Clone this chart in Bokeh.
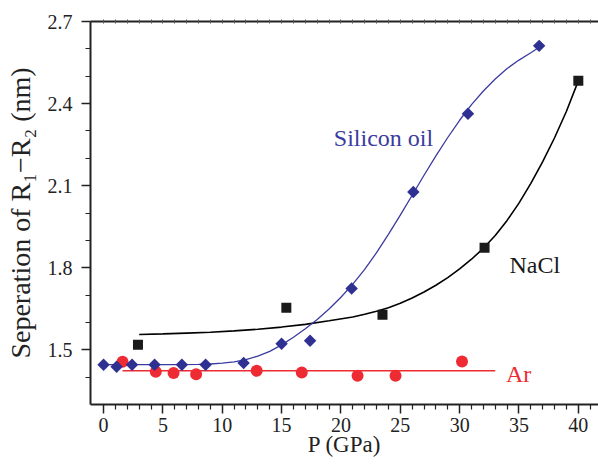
import math
from bokeh.plotting import figure
from bokeh.models import Range1d, FixedTicker, LinearAxis, Label
from bokeh.embed import file_html
from bokeh.resources import INLINE

# ---- data ----
# Silicon oil (blue diamonds)
si_p = [0.0, 1.1, 2.4, 4.3, 6.6, 8.6, 11.8, 15.0, 17.4, 20.9, 26.1, 30.7, 36.7]
si_y = [1.445, 1.438, 1.445, 1.445, 1.445, 1.445, 1.452, 1.522, 1.533, 1.724, 2.077, 2.363, 2.611]
# Silicon oil fitted curve
si_fit_p = [0, 2, 4, 6, 8, 9, 10, 11, 12, 13, 14, 15, 16, 17, 18, 19, 20, 21, 22, 23,
            24, 25, 26, 27, 28, 29, 30, 31, 32, 33, 34, 35, 36, 36.7]
si_fit_y = [1.446, 1.446, 1.446, 1.446, 1.447, 1.448, 1.451, 1.456, 1.464, 1.477, 1.494,
            1.518, 1.546, 1.577, 1.611, 1.649, 1.692, 1.740, 1.794, 1.855, 1.922, 1.992,
            2.065, 2.138, 2.209, 2.276, 2.339, 2.396, 2.446, 2.490, 2.528, 2.559, 2.586, 2.606]

# NaCl (black squares)
nacl_p = [2.9, 15.4, 23.5, 32.1, 40.0]
nacl_y = [1.518, 1.654, 1.628, 1.873, 2.483]
# NaCl fitted curve
nacl_fit_p = [3, 5, 7, 9, 11, 13, 15, 17, 19, 21, 22, 23, 24, 25, 26, 27, 28, 29, 30,
              31, 32, 33, 34, 35, 36, 37, 38, 39, 40]
nacl_fit_y = [1.556, 1.558, 1.561, 1.564, 1.569, 1.575, 1.583, 1.593, 1.606, 1.620, 1.630,
              1.641, 1.654, 1.670, 1.689, 1.711, 1.736, 1.764, 1.796, 1.831, 1.871, 1.918,
              1.973, 2.036, 2.108, 2.188, 2.275, 2.372, 2.483]

# Ar (red circles)
ar_p = [1.6, 4.4, 5.9, 7.8, 12.9, 16.7, 21.4, 24.6, 30.2]
ar_y = [1.456, 1.420, 1.415, 1.411, 1.423, 1.417, 1.405, 1.405, 1.457]
# Ar fitted (horizontal) line
ar_fit_p = [1.6, 33.0]
ar_fit_y = [1.423, 1.423]

# tick values
x_major = [0, 5, 10, 15, 20, 25, 30, 35, 40]
x_minor = [1, 2, 3, 4, 6, 7, 8, 9, 11, 12, 13, 14, 16, 17, 18, 19, 21, 22, 23, 24,
           26, 27, 28, 29, 31, 32, 33, 34, 36, 37, 38, 39, 41]
y_major = [1.5, 1.8, 2.1, 2.4, 2.7]
y_minor = [1.4, 1.6, 1.7, 1.9, 2.0, 2.2, 2.3, 2.5, 2.6]

BLUE = "#2E3192"
BLUE_LINE = "#3B3BA0"
RED = "#EE2A33"
BLACK = "#1A1A1A"
FONT = "Liberation Serif"

p = figure(width=598, height=465, output_backend="svg", toolbar_location=None,
           x_range=Range1d(-1.1, 41.7), y_range=Range1d(1.3, 2.7),
           min_border_left=90, min_border_right=0, min_border_top=21,
           min_border_bottom=61)
p.outline_line_color = None
p.grid.visible = False
p.background_fill_color = "white"
p.border_fill_color = "white"

p.xaxis.ticker = FixedTicker(ticks=x_major, minor_ticks=x_minor)
p.yaxis.ticker = FixedTicker(ticks=y_major, minor_ticks=y_minor)

for ax in (p.xaxis[0], p.yaxis[0]):
    ax.axis_line_width = 2
    ax.axis_line_color = "#222222"
    ax.major_tick_line_width = 1.5
    ax.major_tick_line_color = "#222222"
    ax.minor_tick_line_width = 1.2
    ax.minor_tick_line_color = "#222222"
    ax.major_tick_out = 9
    ax.major_tick_in = 0
    ax.minor_tick_out = 5
    ax.minor_tick_in = 0
    ax.major_label_text_font = FONT
    ax.major_label_text_font_size = "20px"
    ax.major_label_text_color = "#222222"
    ax.axis_label_text_font = FONT
    ax.axis_label_text_font_style = "normal"
    ax.axis_label_text_color = "#222222"

p.xaxis.major_label_standoff = 4
p.xaxis.axis_label = "P (GPa)"
p.xaxis.axis_label_text_font_size = "23px"
p.xaxis.axis_label_standoff = -3

p.yaxis.major_label_standoff = 9
p.yaxis.axis_label = "Seperation of R\u2081\u2212R\u2082 (nm)"
p.yaxis.axis_label_text_font_size = "28px"
p.yaxis.axis_label_standoff = 9

top = LinearAxis(ticker=FixedTicker(ticks=[], minor_ticks=list(range(0, 42))))
top.axis_line_width = 2
top.axis_line_color = "#222222"
top.minor_tick_in = 2
top.minor_tick_out = 2
top.minor_tick_line_color = "#555555"
top.minor_tick_line_width = 1
top.major_tick_in = 0
top.major_tick_out = 0
p.add_layout(top, "above")

# fitted curves
p.line(ar_fit_p, ar_fit_y, line_color=RED, line_width=1.5)
p.line(nacl_fit_p, nacl_fit_y, line_color="black", line_width=1.6)
p.line(si_fit_p, si_fit_y, line_color=BLUE_LINE, line_width=1.3)

# markers
p.scatter(ar_p, ar_y, marker="circle", size=12, fill_color=RED, line_color=None)
p.scatter(nacl_p, nacl_y, marker="square", size=10, fill_color=BLACK, line_color=None)
p.scatter(si_p, si_y, marker="square", angle=math.pi / 4, size=8.8,
          fill_color=BLUE, line_color=None)

# in-plot labels
p.add_layout(Label(x=19.4, y=2.273, text="Silicon oil", text_font=FONT,
                   text_font_size="24px", text_color="#3B3BA0",
                   text_baseline="alphabetic"))
p.add_layout(Label(x=34.2, y=1.811, text="NaCl", text_font=FONT,
                   text_font_size="24px", text_color="#1A1A1A",
                   text_baseline="alphabetic"))
p.add_layout(Label(x=33.9, y=1.412, text="Ar", text_font=FONT,
                   text_font_size="24px", text_color=RED,
                   text_baseline="alphabetic"))

open("out.html", "w").write(file_html(p, INLINE))
